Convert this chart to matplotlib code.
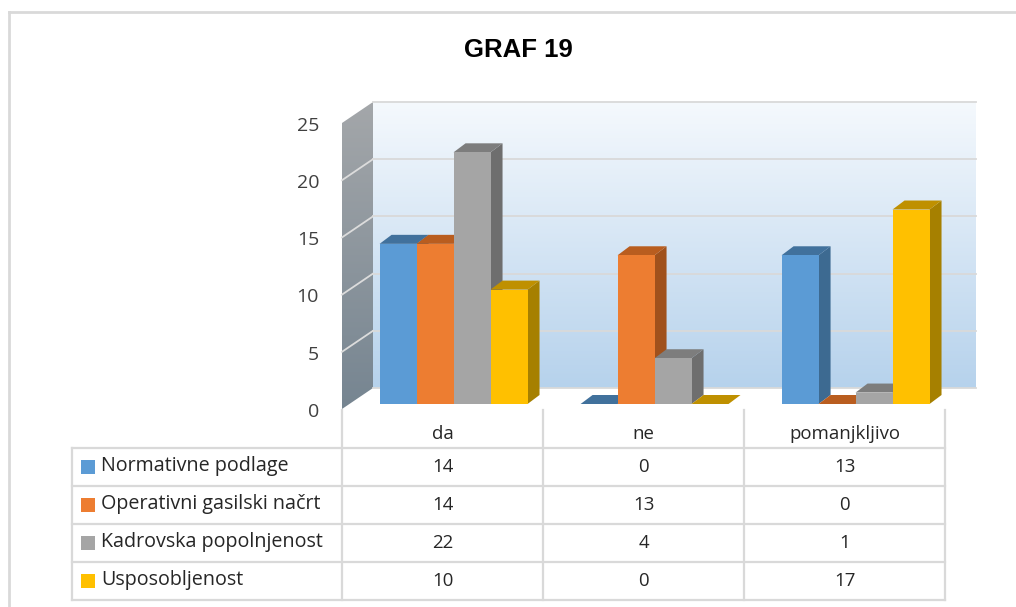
import matplotlib
matplotlib.use("Agg")
import matplotlib.pyplot as plt
from matplotlib.patches import Polygon, Rectangle
from matplotlib.lines import Line2D
import numpy as np

# data
categories = ["da", "ne", "pomanjkljivo"]
series_names = [
    "Normativne podlage",
    "Operativni gasilski načrt",
    "Kadrovska popolnjenost",
    "Usposobljenost",
]
normativne = [14, 0, 13]
operativni = [14, 13, 0]
kadrovska = [22, 4, 1]
usposobljenost = [10, 0, 17]
y_ticks = [0, 5, 10, 15, 20, 25]
title = "GRAF 19"

series_values = [normativne, operativni, kadrovska, usposobljenost]
front_colors = ["#5b9bd5", "#ed7d31", "#a5a5a5", "#ffc000"]
side_colors = ["#3d6a91", "#a0511c", "#6e6e6e", "#a68000"]
top_colors = ["#41719c", "#b95d1f", "#7d7d7d", "#bf9000"]

W, H = 1016, 607
fig = plt.figure(figsize=(W / 100, H / 100), dpi=100)

# axes in category / value units, placed so the front plane fits the frame
x0_px, x_scale = 342, 201.0     # pixel of category 0, pixels per category
y0_px, y_scale = 409, 11.44     # pixel (from top) of value 0, pixels per unit
ax = fig.add_axes([0, 0, 1, 1])
ax.set_xlim(-x0_px / x_scale, (W - x0_px) / x_scale)
ax.set_ylim(-(H - y0_px) / y_scale, y0_px / y_scale)
ax.axis("off")

n_cat = len(categories)
y_max = y_ticks[-1]

# wall depth offsets
wdx, wdy = 31 / x_scale, 21 / y_scale
# bar depth offsets and placement
bdx, bdy = 12 / x_scale, 9 / y_scale
bar_w = 0.184
shift_x, shift_y = 0.055, 5 / y_scale

txt_font = "Open Sans"
txt_size = 13.4
txt_col = "#262626"


def gradient_fill(poly_pts, top_col, bot_col, extent):
    c1 = np.array(matplotlib.colors.to_rgb(top_col))
    c2 = np.array(matplotlib.colors.to_rgb(bot_col))
    t = np.linspace(0, 1, 256)[:, None]
    img = (c1 * (1 - t) + c2 * t)[:, None, :]
    im = ax.imshow(img, extent=extent, aspect="auto", origin="upper",
                   interpolation="bilinear", zorder=1)
    poly = Polygon(poly_pts, closed=True, facecolor="none", edgecolor="none")
    ax.add_patch(poly)
    im.set_clip_path(poly)


# back wall
back = [(wdx, wdy), (n_cat + wdx, wdy), (n_cat + wdx, y_max + wdy), (wdx, y_max + wdy)]
gradient_fill(back, "#f5f9fd", "#b6d2ec", (wdx, n_cat + wdx, wdy, y_max + wdy))
# side wall
side = [(0, 0), (wdx, wdy), (wdx, y_max + wdy), (0, y_max)]
gradient_fill(side, "#a4a7aa", "#768591", (0, wdx, 0, y_max + wdy))

for v in y_ticks:
    ax.plot([wdx, n_cat + wdx], [v + wdy, v + wdy], color="#d9d9d9", lw=1.3, zorder=2)
    if 0 < v < y_max:
        ax.plot([0, wdx], [v, v + wdy], color="#dcdcdc", lw=1.3, zorder=2)
    ax.text(-23 / x_scale, v - 0.25, str(v), ha="right", va="center",
            fontsize=14, family=txt_font, color="#404040")

# 3d bars
for i in range(n_cat):
    for j, vals in enumerate(series_values):
        v = vals[i]
        x = i + 0.5 + shift_x + (j - 2) * bar_w
        y = shift_y
        z = 3 + j
        ax.add_patch(Polygon([(x + bar_w, y), (x + bar_w + bdx, y + bdy),
                              (x + bar_w + bdx, y + bdy + v), (x + bar_w, y + v)],
                             facecolor=side_colors[j], edgecolor="none", zorder=z))
        ax.add_patch(Polygon([(x, y + v), (x + bdx, y + v + bdy),
                              (x + bar_w + bdx, y + v + bdy), (x + bar_w, y + v)],
                             facecolor=top_colors[j], edgecolor="none", zorder=z))
        if v > 0:
            ax.add_patch(Rectangle((x, y), bar_w, v, facecolor=front_colors[j],
                                   edgecolor="none", zorder=z))

# title
fig.text(518 / W, 1 - 50 / H, title, ha="center", va="center", fontsize=18.5,
         fontweight="bold", family="Liberation Sans")

# data table
grid_col = "#d9d9d9"


def fx(px):
    return px / W


def fy(py):
    return 1 - py / H


table_left = 72
col_edges = [x0_px + k * x_scale for k in range(n_cat + 1)]
row_edges = [447.5, 485.5, 523.5, 561.5, 599.5]

for k, xe in enumerate(col_edges):
    fig.add_artist(Line2D([fx(xe), fx(xe)], [fy(410), fy(row_edges[-1])],
                          color=grid_col, lw=1.6))
fig.add_artist(Line2D([fx(table_left), fx(table_left)], [fy(row_edges[0]), fy(row_edges[-1])],
                      color=grid_col, lw=1.6))
for ye in row_edges:
    fig.add_artist(Line2D([fx(table_left), fx(col_edges[-1])], [fy(ye), fy(ye)],
                          color=grid_col, lw=1.6))

for i, cat in enumerate(categories):
    cx = (col_edges[i] + col_edges[i + 1]) / 2
    fig.text(fx(cx), fy(434), cat, ha="center", va="center", fontsize=txt_size,
             family=txt_font, color=txt_col)

for j, name in enumerate(series_names):
    cy = (row_edges[j] + row_edges[j + 1]) / 2
    fig.add_artist(Rectangle((fx(81), fy(cy + 7)), 13.5 / W, 13.5 / H,
                             facecolor=front_colors[j], edgecolor="none"))
    fig.text(fx(101), fy(cy), name, ha="left", va="center", fontsize=14.2,
             family=txt_font, color=txt_col)
    for i in range(n_cat):
        cx = (col_edges[i] + col_edges[i + 1]) / 2
        fig.text(fx(cx), fy(cy), str(series_values[j][i]), ha="center", va="center",
                 fontsize=txt_size, family=txt_font, color=txt_col)

# chart border
fig.add_artist(Line2D([fx(9), fx(9)], [fy(12), 0], color="#d9d9d9", lw=2))
fig.add_artist(Line2D([fx(9), 1], [fy(12), fy(12)], color="#d9d9d9", lw=2))

fig.savefig("out.png", dpi=100)
